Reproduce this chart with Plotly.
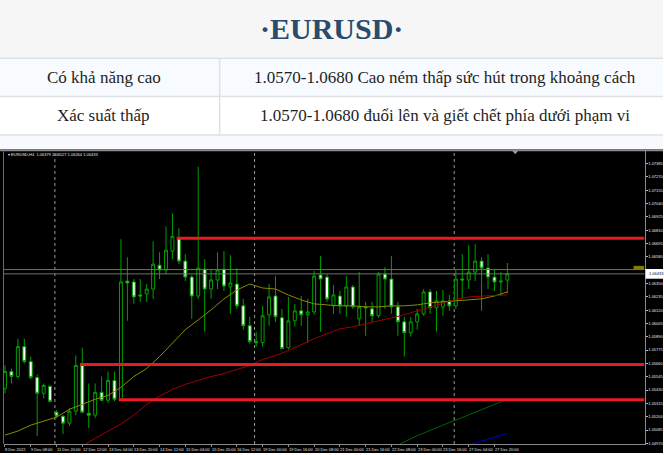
import plotly.graph_objects as go

W, H = 664, 455

# ---------------- data ----------------
title_text = "·EURUSD·"
table_rows = [
    ("Có khả năng cao", "1.0570-1.0680 Cao ném thấp sức hút trong khoảng cách"),
    ("Xác suất thấp", "1.0570-1.0680 đuổi lên và giết chết phía dưới phạm vi"),
]
chart_header = "▾ EURUSD,H4  1.06379 1.06527 1.06264 1.06433"

opens = [1.05445, 1.05590, 1.05547, 1.05805, 1.05676, 1.05539, 1.05402, 1.05462, 1.05239, 1.05204,
         1.05144, 1.05247, 1.05642, 1.05230, 1.05213, 1.05410, 1.05342, 1.05513, 1.05350, 1.06371,
         1.06363, 1.06251, 1.06260, 1.06302, 1.06508, 1.06466, 1.06629, 1.06740, 1.06543, 1.06405,
         1.06242, 1.06474, 1.06302, 1.06380, 1.06474, 1.06320, 1.06345, 1.06157, 1.05985, 1.05848,
         1.05839, 1.06079, 1.06242, 1.06054, 1.05796, 1.06028, 1.06114, 1.06079, 1.06105, 1.06423,
         1.06405, 1.06157, 1.06242, 1.06157, 1.06320, 1.06045, 1.06148, 1.06131, 1.06071, 1.06431,
         1.06388, 1.06148, 1.06019, 1.05925, 1.06019, 1.06088, 1.06277, 1.06140, 1.06148, 1.06200,
         1.06157, 1.06388, 1.06380, 1.06448, 1.06543, 1.06483, 1.06405, 1.06363, 1.06379]
highs = [1.05642, 1.05616, 1.05873, 1.05873, 1.05719, 1.05565, 1.05487, 1.05470, 1.05256, 1.05213,
         1.05273, 1.05728, 1.05796, 1.05487, 1.05487, 1.05547, 1.05590, 1.05590, 1.06732, 1.06577,
         1.06388, 1.06388, 1.06345, 1.06714, 1.06620, 1.06843, 1.06955, 1.06826, 1.06603, 1.06423,
         1.07358, 1.06560, 1.06474, 1.06620, 1.06629, 1.06594, 1.06483, 1.06217, 1.06062, 1.05934,
         1.06157, 1.06345, 1.06414, 1.06131, 1.06234, 1.06174, 1.06242, 1.06217, 1.06457, 1.06586,
         1.06431, 1.06337, 1.06285, 1.06414, 1.06337, 1.06448, 1.06191, 1.06191, 1.06448, 1.06491,
         1.06586, 1.06191, 1.06062, 1.06062, 1.06131, 1.06302, 1.06302, 1.06285, 1.06294, 1.06251,
         1.06474, 1.06603, 1.06680, 1.06689, 1.06577, 1.06603, 1.06466, 1.06448, 1.06527]
lows = [1.05402, 1.05487, 1.05530, 1.05659, 1.05522, 1.05033, 1.05359, 1.05324, 1.05187, 1.05050,
        1.05118, 1.05213, 1.05230, 1.05101, 1.05187, 1.05333, 1.05316, 1.05333, 1.05342, 1.06028,
        1.06174, 1.06191, 1.06191, 1.06217, 1.06388, 1.06431, 1.06560, 1.06517, 1.06371, 1.06045,
        1.06217, 1.05934, 1.06217, 1.06302, 1.06285, 1.06088, 1.06131, 1.05951, 1.05831, 1.05805,
        1.05805, 1.05985, 1.06019, 1.05788, 1.05780, 1.05976, 1.05985, 1.05839, 1.06079, 1.05934,
        1.06191, 1.06088, 1.06088, 1.06062, 1.06131, 1.05985, 1.05899, 1.06019, 1.06054, 1.06131,
        1.06088, 1.05899, 1.05719, 1.05891, 1.05951, 1.06071, 1.06088, 1.05934, 1.06071, 1.06114,
        1.06131, 1.06217, 1.06302, 1.06371, 1.06114, 1.06302, 1.06285, 1.06242, 1.06264]
closes = [1.05590, 1.05547, 1.05805, 1.05676, 1.05539, 1.05402, 1.05470, 1.05333, 1.05204, 1.05144,
          1.05247, 1.05642, 1.05239, 1.05213, 1.05410, 1.05342, 1.05513, 1.05350, 1.06363, 1.06354,
          1.06234, 1.06242, 1.06302, 1.06517, 1.06466, 1.06637, 1.06757, 1.06543, 1.06405, 1.06242,
          1.06483, 1.06302, 1.06380, 1.06466, 1.06328, 1.06354, 1.06157, 1.05985, 1.05848, 1.05839,
          1.06071, 1.06234, 1.06062, 1.05788, 1.06028, 1.06114, 1.06079, 1.06105, 1.06414, 1.06388,
          1.06217, 1.06251, 1.06157, 1.06320, 1.06148, 1.06148, 1.06140, 1.06071, 1.06431, 1.06388,
          1.06148, 1.06019, 1.05925, 1.06019, 1.06088, 1.06277, 1.06140, 1.06200, 1.06200, 1.06157,
          1.06388, 1.06380, 1.06448, 1.06543, 1.06483, 1.06405, 1.06363, 1.06371, 1.06433]
bars = list(range(len(opens)))

# moving averages (sampled every 2 bars)
ma_olive_x = list(range(0, 79, 2))
ma_olive = [1.05041, 1.05076, 1.05127, 1.05161, 1.05196, 1.05264, 1.05307, 1.05350, 1.05384, 1.05453,
            1.05547, 1.05616, 1.05719, 1.05839, 1.05951, 1.06036, 1.06122, 1.06217, 1.06294, 1.06345,
            1.06311, 1.06302, 1.06251, 1.06208, 1.06174, 1.06165, 1.06157, 1.06157, 1.06148, 1.06148,
            1.06157, 1.06157, 1.06165, 1.06183, 1.06191, 1.06200, 1.06212, 1.06217, 1.06242, 1.06277]
ma_red_x = list(range(12, 79, 2))
ma_red = [1.04948, 1.05015, 1.05076, 1.05136, 1.05213, 1.05307, 1.05376, 1.05436, 1.05479, 1.05513,
          1.05547, 1.05573, 1.05607, 1.05642, 1.05694, 1.05728, 1.05771, 1.05822, 1.05873, 1.05916,
          1.05959, 1.05976, 1.06002, 1.06028, 1.06054, 1.06079, 1.06114, 1.06148, 1.06183, 1.06212,
          1.06234, 1.06242, 1.06247, 1.06251]
ma_green_x = [61, 64, 68, 72, 76, 78]
ma_green = [1.04955, 1.05036, 1.05127, 1.05215, 1.05307, 1.05350]
ma_blue_x = [72, 74, 76, 78]
ma_blue = [1.04955, 1.04990, 1.05024, 1.05058]

# horizontal levels
red_levels = [1.06740, 1.05650, 1.05346]
red_level_start = [27, 12, 18]
olive_level = 1.06470
bid_price = 1.06433
week_separators = [8, 39, 70]

ytick_labels = ["1.07385", "1.07270", "1.07155", "1.07040", "1.06925", "1.06810", "1.06695",
                "1.06580", "1.06465", "1.06350", "1.06235", "1.06120", "1.06005", "1.05890",
                "1.05775", "1.05660", "1.05545", "1.05430", "1.05315", "1.05200", "1.05085",
                "1.04970"]
xtick_bars = [0, 4, 8, 12, 16, 20, 24, 28, 32, 36, 40, 44, 48, 52, 56, 60, 64, 68, 72, 76]
xtick_labels = ["8 Dec 2022", "9 Dec 08:00", "11 Dec 20:00", "12 Dec 12:00", "13 Dec 04:00",
                "13 Dec 20:00", "14 Dec 12:00", "15 Dec 04:00", "15 Dec 20:00", "16 Dec 12:00",
                "19 Dec 00:00", "19 Dec 16:00", "20 Dec 08:00", "21 Dec 00:00", "21 Dec 16:00",
                "22 Dec 08:00", "23 Dec 00:00", "23 Dec 16:00", "27 Dec 04:00", "27 Dec 20:00"]

# ---------------- layout helpers ----------------
def py(px):
    return 1 - px / H

def pxx(px):
    return px / W

PLOT_L, PLOT_R, PLOT_T, PLOT_B = 4, 645.5, 151.5, 446
Y_RANGE = [1.04964, 1.07495]
X_RANGE = [-0.155, 99.3]

WICK = "#00a000"
TINY = dict(family="Liberation Sans, Arial, sans-serif", size=4, color="#e6e6e6")

fig = go.Figure()

fig.add_trace(go.Candlestick(
    x=bars, open=opens, high=highs, low=lows, close=closes,
    increasing=dict(line=dict(color=WICK, width=1), fillcolor="#000000"),
    decreasing=dict(line=dict(color=WICK, width=1), fillcolor="#ffffff"),
    whiskerwidth=0, hoverinfo="skip", showlegend=False,
))
for xs, ys, col in [(ma_olive_x, ma_olive, "#8a8a00"), (ma_red_x, ma_red, "#a00000"),
                    (ma_green_x, ma_green, "#006400"), (ma_blue_x, ma_blue, "#0000c8")]:
    fig.add_trace(go.Scatter(x=xs, y=ys, mode="lines", line=dict(color=col, width=1),
                             hoverinfo="skip", showlegend=False))

shapes = []
# page backgrounds
shapes.append(dict(type="rect", xref="paper", yref="paper", x0=0, x1=1, y0=py(58), y1=1,
                   fillcolor="#f6f6f6", line_width=0, layer="below"))
shapes.append(dict(type="rect", xref="paper", yref="paper", x0=0, x1=1, y0=py(97), y1=py(58),
                   fillcolor="#f7faff", line_width=0, layer="below"))
shapes.append(dict(type="rect", xref="paper", yref="paper", x0=0, x1=1, y0=py(136), y1=py(97),
                   fillcolor="#ffffff", line_width=0, layer="below"))
shapes.append(dict(type="rect", xref="paper", yref="paper", x0=0, x1=1, y0=py(150), y1=py(136),
                   fillcolor="#f7f9fc", line_width=0, layer="below"))
for yy in (58.5, 97, 135.5):
    shapes.append(dict(type="line", xref="paper", yref="paper", x0=0, x1=1, y0=py(yy), y1=py(yy),
                       line=dict(color="#dde1e6", width=1.5), layer="below"))
shapes.append(dict(type="line", xref="paper", yref="paper", x0=pxx(220), x1=pxx(220),
                   y0=py(58.5), y1=py(135.5), line=dict(color="#dde1e6", width=1.5), layer="below"))
# chart window
shapes.append(dict(type="rect", xref="paper", yref="paper", x0=0, x1=1, y0=0, y1=py(150),
                   fillcolor="#000000", line_width=0, layer="below"))
shapes.append(dict(type="rect", xref="paper", yref="paper", x0=0, x1=1, y0=py(152), y1=py(150),
                   fillcolor="#8c8c8c", line_width=0, layer="below"))
shapes.append(dict(type="line", xref="paper", yref="paper", x0=pxx(3.5), x1=pxx(3.5),
                   y0=py(PLOT_B), y1=py(152), line=dict(color="#6a6a6a", width=1), layer="below"))
# week separators
for w in week_separators:
    shapes.append(dict(type="line", xref="x", yref="paper", x0=w - 0.25, x1=w - 0.25,
                       y0=py(PLOT_B), y1=py(PLOT_T), line=dict(color="#9a9a9a", width=1, dash="dot"),
                       layer="below"))
# olive level and bid line
shapes.append(dict(type="line", xref="paper", yref="y", x0=pxx(PLOT_L), x1=pxx(PLOT_R),
                   y0=olive_level, y1=olive_level, line=dict(color="#808000", width=1)))
shapes.append(dict(type="line", xref="paper", yref="y", x0=pxx(PLOT_L), x1=pxx(PLOT_R),
                   y0=bid_price, y1=bid_price, line=dict(color="#707070", width=1)))
# red support/resistance levels
for lv, st in zip(red_levels, red_level_start):
    shapes.append(dict(type="line", xref="x", yref="y", x0=st - 0.35, x1=X_RANGE[1],
                       y0=lv, y1=lv, line=dict(color="#ea1a22", width=3)))
# price labels on the axis
shapes.append(dict(type="rect", xref="paper", yref="y", x0=pxx(634.5), x1=pxx(645),
                   y0=olive_level, y1=olive_level + 0.00032, fillcolor="#808000", line_width=0))
shapes.append(dict(type="rect", xref="paper", yref="y", x0=pxx(646.5), x1=pxx(664),
                   y0=bid_price - 0.00042, y1=bid_price + 0.00042, fillcolor="#ffffff",
                   line_width=0))
# chart shift marker
shapes.append(dict(type="path", xref="paper", yref="paper",
                   path=f"M {pxx(513)} {py(151.5)} L {pxx(519)} {py(151.5)} L {pxx(516)} {py(155)} Z",
                   fillcolor="#9a9a9a", line_width=0))

annotations = []
annotations.append(dict(text=f"<b>{title_text}</b>", xref="paper", yref="paper", x=0.5, y=py(29),
                        showarrow=False, xanchor="center", yanchor="middle",
                        font=dict(family="Liberation Serif, Times New Roman, serif", size=30,
                                  color="#284b6e")))
row_y = [78, 116.5]
for (c1, c2), yy in zip(table_rows, row_y):
    annotations.append(dict(text=c1, xref="paper", yref="paper", x=pxx(104), y=py(yy),
                            showarrow=False, xanchor="center", yanchor="middle",
                            font=dict(family="Liberation Serif, Times New Roman, serif", size=17,
                                      color="#1e1e1e")))
    annotations.append(dict(text=c2, xref="paper", yref="paper", x=pxx(446), y=py(yy),
                            showarrow=False, xanchor="center", yanchor="middle",
                            font=dict(family="Liberation Serif, Times New Roman, serif", size=17,
                                      color="#1e1e1e")))
annotations.append(dict(text=chart_header, xref="paper", yref="paper", x=pxx(6), y=py(155.5),
                        showarrow=False, xanchor="left", yanchor="middle", font=TINY))
for b, lab in zip(xtick_bars, xtick_labels):
    annotations.append(dict(text=lab, xref="x", yref="paper", x=b, y=py(451), xshift=-1.5,
                            showarrow=False, xanchor="left", yanchor="middle", font=TINY))
annotations.append(dict(text=f"{bid_price:.5f}", xref="paper", yref="y", x=pxx(648), y=bid_price,
                        showarrow=False, xanchor="left", yanchor="middle",
                        font=dict(family="Liberation Sans, Arial, sans-serif", size=4,
                                  color="#000000")))

fig.update_layout(
    width=W, height=H, margin=dict(l=0, r=0, t=0, b=0),
    paper_bgcolor="#ffffff", plot_bgcolor="#000000",
    shapes=shapes, annotations=annotations,
    xaxis=dict(domain=[pxx(PLOT_L), pxx(PLOT_R)], range=X_RANGE, rangeslider=dict(visible=False),
               showgrid=False, zeroline=False, showline=True, linecolor="#8a8a8a", linewidth=1,
               tickmode="array", tickvals=xtick_bars, ticktext=[""] * len(xtick_bars),
               ticks="outside", ticklen=2, tickcolor="#8a8a8a", fixedrange=True),
    yaxis=dict(domain=[py(PLOT_B), py(PLOT_T)], range=Y_RANGE, side="right",
               showgrid=False, zeroline=False, showline=True, linecolor="#8a8a8a", linewidth=1,
               tickmode="array", tickvals=[float(t) for t in ytick_labels], ticktext=ytick_labels,
               ticks="outside", ticklen=2, tickcolor="#bbbbbb", tickfont=TINY, fixedrange=True),
    boxgap=0.35,
)

fig.write_html("out.html", config={"displayModeBar": False},
               post_script="document.body.style.margin='0px';document.body.style.overflow='hidden';")
